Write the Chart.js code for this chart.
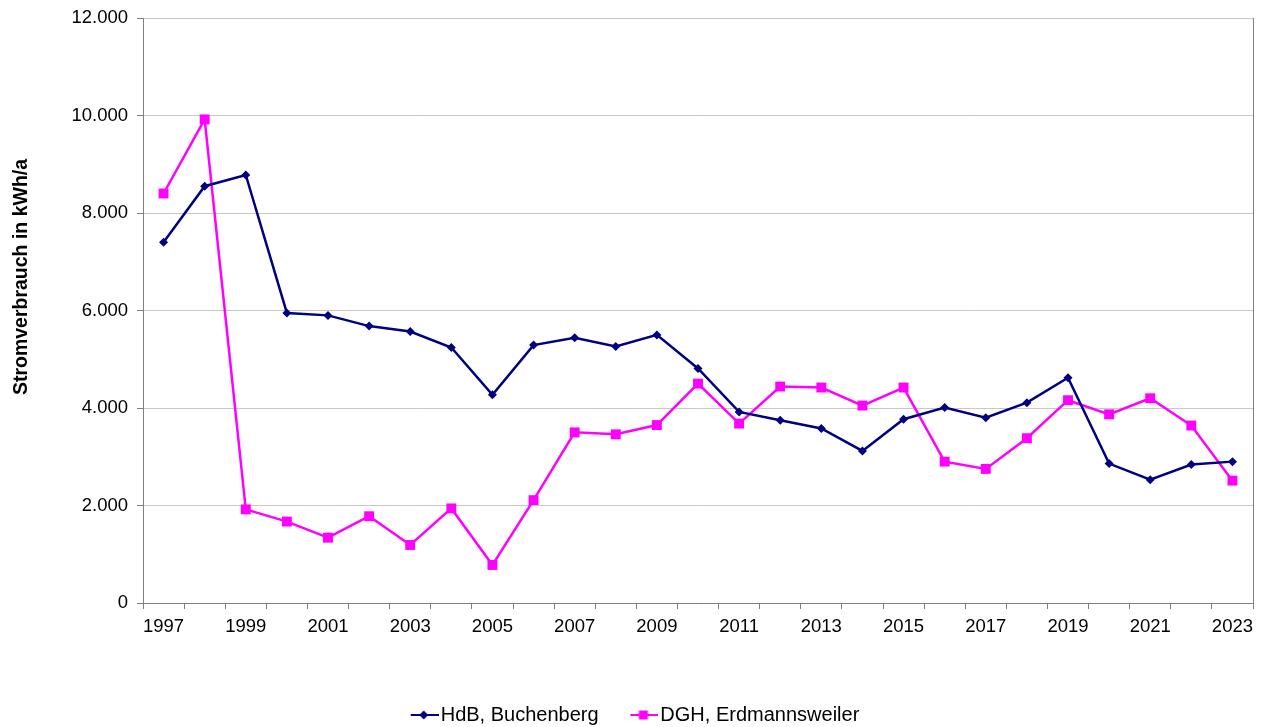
<!DOCTYPE html>
<html>
<head>
<meta charset="utf-8">
<script src="https://cdn.jsdelivr.net/npm/chart.js@4.4.3/dist/chart.umd.min.js"></script>
<style>
  html, body { margin: 0; padding: 0; background: #fff; }
  #wrap { width: 1270px; height: 727px; position: relative; }
</style>
</head>
<body>
<div id="wrap"><canvas id="chart"></canvas></div>
<script>
const years = ['1997', '1998', '1999', '2000', '2001', '2002', '2003', '2004', '2005', '2006',
    '2007', '2008', '2009', '2010', '2011', '2012', '2013', '2014', '2015', '2016',
    '2017', '2018', '2019', '2020', '2021', '2022', '2023'];

const hdbBuchenberg = [7400, 8550, 8780, 5950, 5900, 5680, 5570, 5240, 4270, 5290,
    5440, 5260, 5500, 4810, 3920, 3750, 3580, 3120, 3770, 4010,
    3800, 4110, 4620, 2860, 2530, 2840, 2900];

const dghErdmannsweiler = [8400, 9920, 1920, 1670, 1340, 1780, 1190, 1940, 780, 2110,
    3500, 3460, 3650, 4500, 3680, 4440, 4420, 4050, 4420, 2900,
    2750, 3380, 4160, 3870, 4200, 3640, 2510];

const yTicks = [0, 2000, 4000, 6000, 8000, 10000, 12000];
const yTitle = 'Stromverbrauch in kWh/a';

const navy = '#000080';
const magenta = '#FF00FF';
const axisGray = '#808080';
const gridGray = '#C8C8C8';
const font = 'Liberation Sans, Arial, sans-serif';

// legend swatch: short line with the marker near its left part
function swatch(color, shape) {
    const c = document.createElement('canvas');
    c.width = 36;
    c.height = 12;
    const g = c.getContext('2d');
    g.strokeStyle = color;
    g.fillStyle = color;
    g.lineWidth = 2;
    g.beginPath();
    g.moveTo(8, 6);
    g.lineTo(36, 6);
    g.stroke();
    g.beginPath();
    if (shape === 'diamond') {
        g.moveTo(21, 1.5); g.lineTo(25.5, 6); g.lineTo(21, 10.5); g.lineTo(16.5, 6);
    } else {
        g.rect(16.5, 1.5, 9, 9);
    }
    g.closePath();
    g.fill();
    return c;
}

const fmt = v => v === 0 ? '0' : v.toLocaleString('de-DE');

// y title sits a bit above the middle of the axis in the original
const yTitlePlugin = {
    id: 'yTitle',
    afterDraw(chart) {
        const ctx = chart.ctx;
        ctx.save();
        ctx.translate(26.5, 277);
        ctx.rotate(-Math.PI / 2);
        ctx.fillStyle = '#000';
        ctx.font = 'bold 19.5px ' + font;
        ctx.textAlign = 'center';
        ctx.textBaseline = 'alphabetic';
        ctx.fillText(yTitle, 0, 0);
        ctx.restore();
    }
};

new Chart(document.getElementById('chart'), {
    type: 'line',
    data: {
        labels: years,
        datasets: [
            {
                label: 'HdB, Buchenberg     ',
                data: hdbBuchenberg,
                borderColor: navy,
                backgroundColor: navy,
                borderWidth: 2.5,
                pointStyle: 'rectRot',
                pointRadius: 4.5,
                pointBorderWidth: 0,
                tension: 0,
                legendSwatch: swatch(navy, 'diamond')
            },
            {
                label: 'DGH, Erdmannsweiler',
                data: dghErdmannsweiler,
                borderColor: magenta,
                backgroundColor: magenta,
                borderWidth: 2.5,
                pointStyle: 'rect',
                pointRadius: 7,
                pointBorderWidth: 0,
                tension: 0,
                legendSwatch: swatch(magenta, 'square')
            }
        ]
    },
    options: {
        responsive: true,
        maintainAspectRatio: false,
        animation: false,
        devicePixelRatio: 1,
        layout: {
            padding: { top: 18, right: 0, bottom: -8, left: 0 }
        },
        plugins: {
            tooltip: { enabled: false },
            legend: {
                display: true,
                position: 'bottom',
                labels: {
                    usePointStyle: true,
                    pointStyleWidth: 20,
                    boxHeight: 12,
                    padding: 4,
                    color: '#000',
                    font: { family: font, size: 20 },
                    generateLabels: chart => chart.data.datasets.map((ds, i) => ({
                        text: ds.label,
                        pointStyle: ds.legendSwatch,
                        fillStyle: ds.borderColor,
                        strokeStyle: ds.borderColor,
                        lineWidth: 0,
                        fontColor: '#000',
                        datasetIndex: i,
                        hidden: false
                    }))
                }
            }
        },
        scales: {
            x: {
                type: 'category',
                offset: true,
                grid: {
                    display: true,
                    offset: true,
                    drawOnChartArea: false,
                    drawTicks: true,
                    tickLength: 6,
                    color: axisGray
                },
                border: { display: true, color: axisGray, width: 1 },
                ticks: {
                    autoSkip: false,
                    maxRotation: 0,
                    minRotation: 0,
                    padding: 7,
                    color: '#000',
                    font: { family: font, size: 18.5 },
                    callback: function (val, i) {
                        return i % 2 === 0 ? this.getLabelForValue(val) : '';
                    }
                },
                afterFit: scale => { scale.height = 98; }
            },
            y: {
                min: 0,
                max: 12000,
                afterBuildTicks: scale => { scale.ticks = yTicks.map(v => ({ value: v })); },
                grid: {
                    color: gridGray,
                    lineWidth: 1,
                    drawTicks: true,
                    tickLength: 6,
                    tickColor: axisGray
                },
                border: { display: true, color: axisGray, width: 1 },
                ticks: {
                    padding: 9,
                    color: '#000',
                    font: { family: font, size: 18.5 },
                    callback: v => fmt(v)
                },
                title: { display: false },
                afterFit: scale => {
                    scale.width = 143;
                    scale.paddingTop = 0;
                    scale.paddingBottom = 0;
                }
            },
            y2: {
                position: 'right',
                display: true,
                grid: { drawOnChartArea: false, drawTicks: false },
                border: { display: true, color: axisGray, width: 1 },
                ticks: { display: false },
                afterFit: scale => {
                    scale.width = 17;
                    scale.paddingTop = 0;
                    scale.paddingBottom = 0;
                }
            }
        }
    },
    plugins: [yTitlePlugin]
});
</script>
</body>
</html>
